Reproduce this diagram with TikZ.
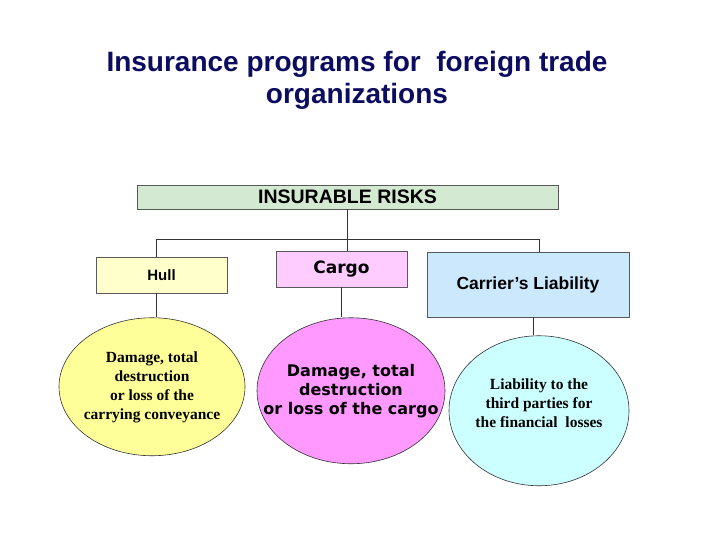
\documentclass[tikz,border=0pt]{standalone}
\usepackage{fontspec}
\setmainfont{Liberation Sans}
\newfontfamily\lossserif{Liberation Serif}
\newfontfamily\cargosans{DejaVu Sans}
\usepackage[dvipsnames]{xcolor}
\usetikzlibrary{shapes.geometric,positioning}

\definecolor{titleblue}{RGB}{12,12,96}
\definecolor{riskgreen}{RGB}{212,233,210}
\definecolor{hullyellow}{RGB}{255,255,204}
\definecolor{cargopink}{RGB}{255,204,255}
\definecolor{carrierblue}{RGB}{204,232,253}
\definecolor{ellyellow}{RGB}{255,255,153}
\definecolor{ellpink}{RGB}{255,153,255}
\definecolor{ellcyan}{RGB}{204,255,255}

\begin{document}
\begin{tikzpicture}[x=1pt,y=-1pt,-,
    class node/.style={rectangle,draw=black!65,line width=0.9pt,inner sep=0pt,font=\bfseries},
    loss node/.style={ellipse,draw=black!80,line width=0.6pt,inner sep=0pt},
    loss text/.style={align=center,inner sep=0pt},
    link/.style={draw=black!80,line width=0.8pt}]
    \useasboundingbox (0,0) rectangle (720,540);

    % title
    \node[anchor=north,inner sep=0pt,align=center,text=titleblue,
          font=\fontsize{28}{32}\selectfont\bfseries] (title) at (357,51.5)
          {Insurance programs for\ \ foreign trade\\organizations};

    % boxes
    \node[class node,fill=riskgreen,minimum width=421pt,minimum height=24pt,
          font=\fontsize{19.5}{22}\selectfont\bfseries] (risks) at (347.5,197) {INSURABLE RISKS};
    \node[class node,fill=hullyellow,minimum width=131pt,minimum height=36pt,
          font=\fontsize{15}{18}\selectfont\bfseries] (hull) at (161.5,275) {Hull};
    \node[class node,fill=cargopink,minimum width=131pt,minimum height=36pt,
          font=\fontsize{17}{20}\selectfont\cargosans\bfseries] (cargo) at (341.5,269) {Cargo};
    \node[class node,fill=carrierblue,minimum width=202pt,minimum height=65pt,
          font=\fontsize{17.5}{20}\selectfont\bfseries] (carrier) at (528,284.5) {Carrier’s Liability};

    % ellipses
    \node[loss node,fill=ellyellow,minimum width=186pt,minimum height=138pt]
          (loss1) [below=24pt of hull,xshift=-9.5pt] {};
    \node[loss node,fill=ellpink,minimum width=188pt,minimum height=146pt]
          (loss2) [below=30pt of cargo,xshift=9.5pt] {};
    \node[loss node,fill=ellcyan,minimum width=180pt,minimum height=150pt]
          (loss3) [below=18pt of carrier,xshift=11pt] {};

    \node[loss text,font=\fontsize{15.5}{19}\selectfont\lossserif\bfseries]
          (loss1text) at ([yshift=-1pt]loss1.center)
          {Damage, total\\destruction\\or loss of the\\carrying conveyance};
    \node[loss text,font=\fontsize{16}{19}\selectfont\cargosans\bfseries]
          (loss2text) at (loss2.center)
          {Damage, total\\destruction\\or loss of the cargo};
    \node[loss text,font=\fontsize{15.5}{19}\selectfont\lossserif\bfseries]
          (loss3text) at ([yshift=8pt]loss3.center)
          {Liability to the\\third parties for\\the financial\ \ losses};

    % connectors
    \coordinate (lb) at (156,239);
    \coordinate (rb) at (539,239);
    \path[link]
        (risks.south) -- (risks.south |- cargo.north)
        (lb) -- (rb)
        (lb) -- (lb |- hull.north)
        (rb) -- (rb |- carrier.north)
        (lb |- hull.south) -- (lb |- loss1.north)
        (cargo.south) -- (cargo.south |- loss2.north)
        ([xshift=5pt]carrier.south) -- ([xshift=5pt]carrier.south |- loss3.north)
    ;
\end{tikzpicture}
\end{document}
